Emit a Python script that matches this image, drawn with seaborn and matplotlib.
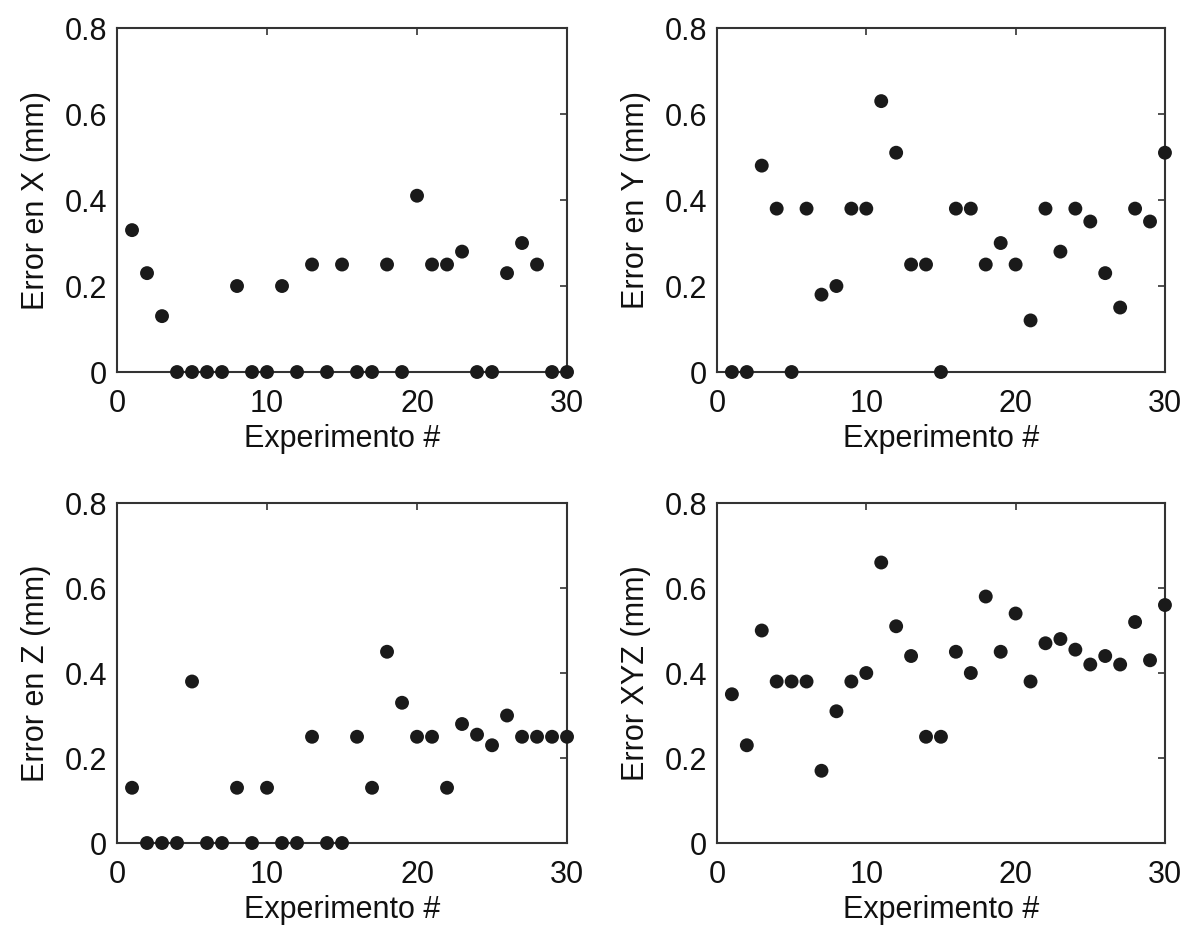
import seaborn as sns
import matplotlib.pyplot as plt
import pandas as pd

# experiment number (x axis, same for all four panels)
experimento = [1, 2, 3, 4, 5, 6, 7, 8, 9, 10,
               11, 12, 13, 14, 15, 16, 17, 18, 19, 20,
               21, 22, 23, 24, 25, 26, 27, 28, 29, 30]

# errors (mm)
error_x = [0.33, 0.23, 0.13, 0, 0, 0, 0, 0.20, 0, 0,
           0.20, 0, 0.25, 0, 0.25, 0, 0, 0.25, 0, 0.41,
           0.25, 0.25, 0.28, 0, 0, 0.23, 0.30, 0.25, 0, 0]
error_y = [0, 0, 0.48, 0.38, 0, 0.38, 0.18, 0.20, 0.38, 0.38,
           0.63, 0.51, 0.25, 0.25, 0, 0.38, 0.38, 0.25, 0.30, 0.25,
           0.12, 0.38, 0.28, 0.38, 0.35, 0.23, 0.15, 0.38, 0.35, 0.51]
error_z = [0.13, 0, 0, 0, 0.38, 0, 0, 0.13, 0, 0.13,
           0, 0, 0.25, 0, 0, 0.25, 0.13, 0.45, 0.33, 0.25,
           0.25, 0.13, 0.28, 0.255, 0.23, 0.30, 0.25, 0.25, 0.25, 0.25]
error_xyz = [0.35, 0.23, 0.50, 0.38, 0.38, 0.38, 0.17, 0.31, 0.38, 0.40,
             0.66, 0.51, 0.44, 0.25, 0.25, 0.45, 0.40, 0.58, 0.45, 0.54,
             0.38, 0.47, 0.48, 0.455, 0.42, 0.44, 0.42, 0.52, 0.43, 0.56]

y_labels = ['Error en X (mm)', 'Error en Y (mm)', 'Error en Z (mm)', 'Error XYZ (mm)']
x_ticks = [0, 10, 20, 30]
y_ticks = [0, 0.2, 0.4, 0.6, 0.8]
y_ticklabels = ['0', '0.2', '0.4', '0.6', '0.8']

sns.set_style('white')
plt.rcParams['font.family'] = ['Liberation Sans', 'DejaVu Sans']

fig = plt.figure(figsize=(11.88, 9.31), dpi=100)
# axes boxes [left, bottom, width, height]
boxes = [[0.0985, 0.6004, 0.3788, 0.3695],
         [0.6035, 0.6004, 0.3771, 0.3695],
         [0.0985, 0.0945, 0.3788, 0.3652],
         [0.6035, 0.0945, 0.3771, 0.3652]]

for box, errs, lab in zip(boxes, [error_x, error_y, error_z, error_xyz], y_labels):
    ax = fig.add_axes(box)
    df = pd.DataFrame({'Experimento': experimento, 'Error': errs})
    sns.scatterplot(data=df, x='Experimento', y='Error', ax=ax,
                    color='#1a1a1a', s=100, edgecolor='none', clip_on=False, zorder=3)
    ax.set_xlim(0, 30)
    ax.set_ylim(0, 0.8)
    ax.set_xticks(x_ticks)
    ax.set_yticks(y_ticks)
    ax.set_yticklabels(y_ticklabels)
    ax.set_xlabel('Experimento #', fontsize=22, labelpad=3.5, color='#111111')
    ax.set_ylabel(lab, fontsize=22, labelpad=10, color='#111111')
    ax.tick_params(direction='in', top=True, right=True, length=5, width=1.2,
                   labelsize=22, color='#333333', labelcolor='#111111')
    ax.tick_params(axis='x', pad=12)
    ax.tick_params(axis='y', pad=7)
    for sp in ax.spines.values():
        sp.set_color('#333333')
        sp.set_linewidth(1.5)

fig.savefig('out.png', dpi=100)
